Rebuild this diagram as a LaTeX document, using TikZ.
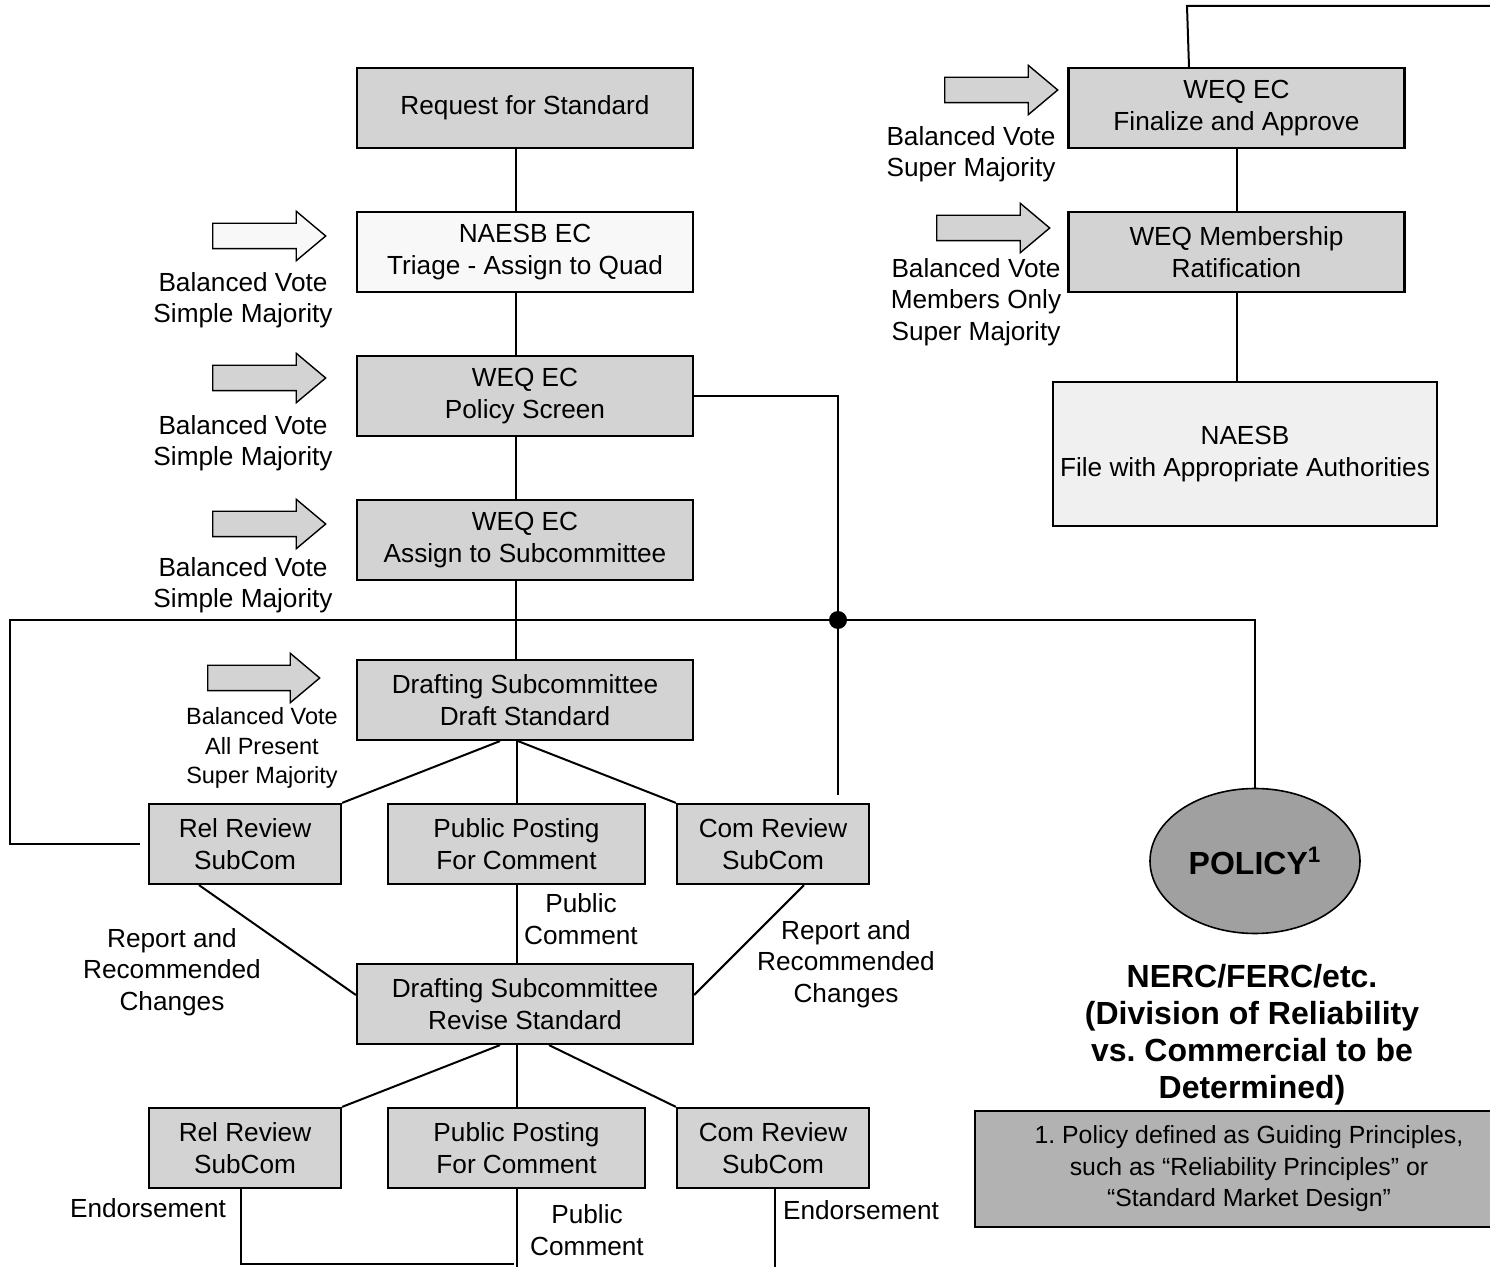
\documentclass[tikz,border=0pt]{standalone}
\usepackage{fontspec}
\setmainfont{Liberation Sans}
\usetikzlibrary{calc,shapes,arrows.meta}
\frenchspacing

\definecolor{boxgray}{RGB}{211,211,211}
\definecolor{palegray}{RGB}{248,248,248}
\definecolor{filegray}{RGB}{240,240,240}
\definecolor{ovalgray}{RGB}{160,160,160}
\definecolor{notegray}{RGB}{178,178,178}

\tikzset{
  stdbox/.style={draw, line width=1.1pt, fill=boxgray, minimum width=168pt,
    minimum height=40pt, inner sep=0pt, align=center,
    font=\fontsize{13.1}{15.75}\selectfont},
  subbox/.style={stdbox, minimum width=96pt},
  votearrow/.style={draw, line width=0.7pt, fill=boxgray, single arrow,
    minimum height=56.5pt, minimum width=24pt, single arrow head extend=6pt,
    single arrow tip angle=80, inner xsep=0pt, inner ysep=6pt, anchor=tail},
  votelabel/.style={align=center, inner sep=0pt,
    font=\fontsize{13.1}{15.75}\selectfont},
  link/.style={line width=1pt}
}

\begin{document}
\begin{tikzpicture}[x=0.5pt,y=-0.5pt]
  \useasboundingbox (0,0) rectangle (1490,1267);

  %% Main column
  \coordinate (spine) at (516,0);
  \node[stdbox] (req)    at (525,108)  {Request for Standard};
  \node[stdbox, fill=palegray] (naesb) at (525,252) {NAESB EC\\Triage - Assign to Quad};
  \node[stdbox] (screen) at (525,396)  {WEQ EC\\Policy Screen};
  \node[stdbox] (assign) at (525,540)  {WEQ EC\\Assign to Subcommittee};
  \node[stdbox] (draft)  at (525,700)  {Drafting Subcommittee\\Draft Standard};
  \node[stdbox] (revise) at (525,1004) {Drafting Subcommittee\\Revise Standard};

  %% Review rows
  \foreach \r/\y in {A/844,B/1148}
  {
    \node[subbox] (rel\r) at (245,\y) {Rel Review\\SubCom};
    \node[subbox, minimum width=128.5pt] (pub\r) at (516.5,\y) {Public Posting\\For Comment};
    \node[subbox] (com\r) at (773,\y) {Com Review\\SubCom};
  }

  %% Right column
  \node[stdbox] (final)  at (1236.5,108) {WEQ EC\\Finalize and Approve};
  \node[stdbox] (ratify) at (1236.5,252) {WEQ Membership\\Ratification};
  \node[stdbox, fill=filegray, minimum width=192pt, minimum height=72pt]
    (filing) at (1245,454) {NAESB\\File with Appropriate Authorities};

  \node[draw, ellipse, line width=0.8pt, fill=ovalgray, minimum width=105pt,
    minimum height=72.5pt, inner sep=0pt, font=\bfseries\fontsize{16}{18}\selectfont]
    (pol) at (1255,861) {POLICY\textsuperscript{1}};
  \node[align=center, inner sep=0pt, font=\bfseries\fontsize{16}{18.5}\selectfont]
    (nerc) at (1252,1035) {NERC/FERC/etc.\\(Division of Reliability\\vs. Commercial to be\\Determined)};
  \node[draw, line width=1.1pt, fill=notegray, minimum width=274pt, minimum height=58pt,
    inner sep=0pt, align=center, font=\fontsize{12.4}{15.75}\selectfont]
    (note) at (1249,1169) {1. Policy defined as Guiding Principles,\\such as “Reliability Principles” or\\“Standard Market Design”};

  %% Vote arrows and labels
  \node[votearrow, fill=palegray] (V1) at (212,236) {};
  \foreach \n/\x/\y in {2/212/378, 3/212/524, 5/944/90, 6/936/228}
  {
    \node[votearrow] (V\n) at (\x,\y) {};
  }
  \node[votearrow, minimum height=56pt] (V4) at (207,678) {};

  \foreach \n/\y in {1/300, 2/443, 3/585}
  {
    \node[votelabel] (L\n) at (243,\y) {Balanced Vote\\Simple Majority};
  }
  \node[votelabel, font=\fontsize{11.75}{14.75}\selectfont] (L4) at (262,748)
    {Balanced Vote\\All Present\\Super Majority};
  \node[votelabel] (L5) at (971,154) {Balanced Vote\\Super Majority};
  \node[votelabel] (L6) at (976,302) {Balanced Vote\\Members Only\\Super Majority};

  \node[votelabel] (RC1) at (172,972) {Report and\\Recommended\\Changes};
  \node[votelabel] (RC2) at (846,964) {Report and\\Recommended\\Changes};
  \node[votelabel] (PC1) at (581,919) {Public\\Comment};
  \node[votelabel] (PC2) at (587,1230) {Public\\Comment};
  \node[votelabel] (EN1) at (148,1208) {Endorsement};
  \node[votelabel] (EN2) at (861,1210) {Endorsement};

  %% Connectors
  \draw[link] (req.south -| spine) -- (naesb.north -| spine);
  \draw[link] (naesb.south -| spine) -- (screen.north -| spine);
  \draw[link] (screen.south -| spine) -- (assign.north -| spine);
  \draw[link] (assign.south -| spine) -- (draft.north -| spine);

  \node[circle, fill, inner sep=0pt, minimum size=9pt] (dot) at (838,620) {};
  \coordinate (loopL) at (10,620);
  \draw[link] (screen.east) -- (screen.east -| dot) -- ($(comA.north -| dot)+(0,-8)$);
  \draw[link] ($(relA.west)+(-8,0)$) -| (loopL) -- (loopL -| pol.north) -- (pol.north);

  \draw[link] ($(draft.south)+(-25,0)$) -- (relA.north east);
  \draw[link] (draft.south -| pubA) -- (pubA.north);
  \draw[link] ($(draft.south)+(-7,0)$) -- (comA.north west);

  \draw[link] ($(relA.south)+(-46,0)$) -- ($(revise.west)+(0,-9)$);
  \draw[link] (pubA.south) -- (revise.north -| pubA);
  \draw[link] ($(comA.south)+(31,0)$) -- ($(revise.east)+(0,-9)$);

  \draw[link] ($(revise.south)+(-25,0)$) -- (relB.north east);
  \draw[link] (revise.south -| pubB) -- (pubB.north);
  \draw[link] ($(revise.south)+(24,0)$) -- (comB.north west);

  \coordinate (foot) at (514,1264);
  \coordinate (bottomedge) at (0,1272);
  \draw[link] ($(relB.south)+(-4,0)$) |- (foot);
  \draw[link] (pubB.south) -- (pubB.south |- bottomedge);
  \draw[link] ($(comB.south)+(2,0)$) -- ($(comB.south |- bottomedge)+(2,0)$);

  \coordinate (topbend) at (1187,6);
  \coordinate (topright) at (1495,6);
  \draw[link] ($(final.north)+(-47.5,0)$) -- (topbend) -- (topright);
  \draw[link] (final.south) -- (ratify.north);
  \draw[link] (ratify.south) -- (ratify.south |- filing.north);

\end{tikzpicture}
\end{document}
